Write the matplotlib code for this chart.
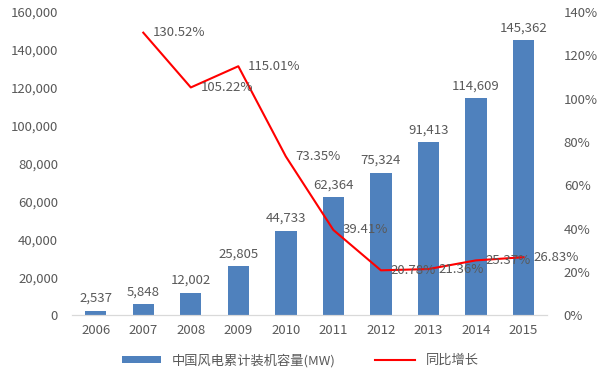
import numpy as np
import matplotlib.pyplot as plt

plt.rcParams['font.family'] = ['Noto Sans CJK SC', 'DejaVu Sans']

years = ["2006", "2007", "2008", "2009", "2010", "2011", "2012", "2013", "2014", "2015"]
capacity = [2537, 5848, 12002, 25805, 44733, 62364, 75324, 91413, 114609, 145362]
growth = [None, 130.52, 105.22, 115.01, 73.35, 39.41, 20.78, 21.36, 25.37, 26.83]

grey = "#595959"
x = np.arange(len(years))

fig = plt.figure(figsize=(6, 3.79), dpi=100)
ax = fig.add_axes([0.12, 0.168, 0.792, 0.80])
ax2 = ax.twinx()

bars = ax.bar(x, capacity, width=0.45, color="#4f81bd", label="中国风电累计装机容量(MW)", zorder=2)
for xi, v in zip(x, capacity):
    ax.annotate(f"{v:,}", (xi, v), xytext=(0, 4), textcoords="offset points",
                ha="center", va="bottom", fontsize=9.5, color=grey)

gx = [xi for xi, g in zip(x, growth) if g is not None]
gy = [g for g in growth if g is not None]
line, = ax2.plot(gx, gy, color="#ff0000", lw=1.5, label="同比增长", zorder=3)
for xi, g in zip(gx, gy):
    ax2.annotate(f"{g:.2f}%", (xi, g), xytext=(7, 0), textcoords="offset points",
                 ha="left", va="center", fontsize=9.5, color=grey)

ax.set_xlim(-0.5, len(years) - 0.5)
ax.set_ylim(0, 160000)
ax.set_yticks(np.arange(0, 160001, 20000))
ax.set_yticklabels([f"{v:,}" for v in range(0, 160001, 20000)])
ax2.set_ylim(0, 140)
ax2.set_yticks(np.arange(0, 141, 20))
ax2.set_yticklabels([f"{v}%" for v in range(0, 141, 20)])
ax.set_xticks(x)
ax.set_xticklabels(years)

for a in (ax, ax2):
    for s in ("top", "left", "right"):
        a.spines[s].set_visible(False)
    a.spines["bottom"].set_color("#d9d9d9")
    a.tick_params(axis="y", length=0, labelsize=9.5, labelcolor=grey)
ax.tick_params(axis="x", length=0, labelsize=9.5, labelcolor=grey, pad=6)
ax.tick_params(axis="y", pad=10)
ax2.tick_params(axis="y", pad=12)

fig.legend(handles=[bars, line], loc="lower center", bbox_to_anchor=(0.5, 0.0),
           ncol=2, frameon=False, fontsize=9.5, labelcolor=grey,
           handlelength=3.0, columnspacing=3, handleheight=0.5)

fig.savefig("out.png", dpi=100)
